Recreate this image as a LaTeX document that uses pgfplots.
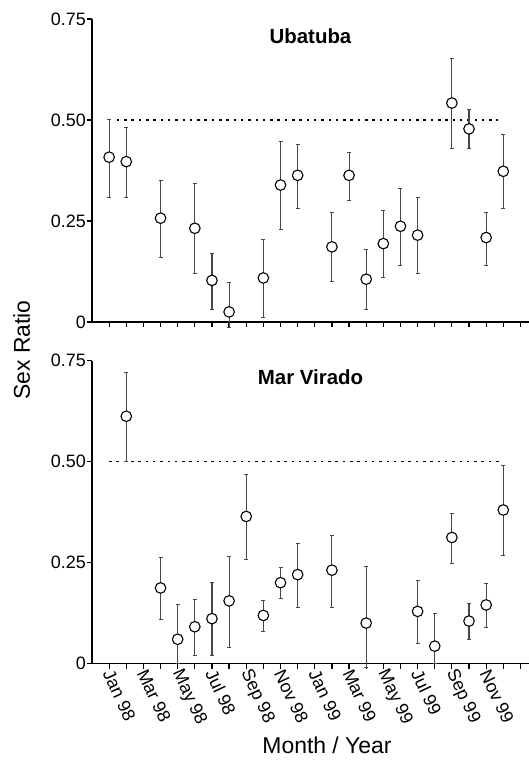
\documentclass[border=0pt]{standalone}
\usepackage{fontspec}
\setmainfont{Liberation Sans}
\usepackage{pgfplots}
\pgfplotsset{compat=1.18}
\usepackage{pgfplotstable}

\pgfplotstableread{
x y ep em
1 0.408 0.095 0.098
2 0.397 0.086 0.087
4 0.257 0.093 0.096
6 0.232 0.112 0.112
7 0.103 0.068 0.072
8 0.025 0.074 0.039
10 0.109 0.097 0.097
11 0.339 0.108 0.109
12 0.363 0.078 0.082
14 0.186 0.086 0.086
15 0.363 0.058 0.062
16 0.106 0.073 0.075
17 0.194 0.082 0.082
18 0.237 0.095 0.097
19 0.215 0.094 0.095
21 0.542 0.110 0.112
22 0.478 0.048 0.048
23 0.209 0.064 0.069
24 0.373 0.091 0.092
}\ubatuba

\pgfplotstableread{
x y ep em
2 0.612 0.108 0.112
4 0.187 0.076 0.077
5 0.060 0.088 0.060
6 0.091 0.068 0.071
7 0.111 0.090 0.091
8 0.155 0.111 0.115
9 0.364 0.104 0.105
10 0.119 0.037 0.040
11 0.200 0.038 0.039
12 0.220 0.079 0.081
14 0.231 0.087 0.092
16 0.100 0.140 0.110
19 0.129 0.077 0.078
20 0.043 0.081 0.043
21 0.312 0.060 0.063
22 0.105 0.045 0.046
23 0.145 0.055 0.054
24 0.380 0.110 0.112
}\marvirado

\newcommand\tf[1]{\mbox{\fontsize{18}{21}\selectfont #1}}
\newcommand\titlefont{\fontsize{20.5}{23}\selectfont\bfseries}
\newcommand\labfont{\fontsize{23}{26}\selectfont}

\begin{document}
\begin{tikzpicture}
\useasboundingbox (0,0) rectangle (529bp,765bp);
\pgfplotsset{
  myaxis/.style={
    scale only axis, width=437bp, height=303bp,
    xmin=0, xmax=25.5, ymin=0, ymax=0.75,
    axis x line*=bottom, axis y line*=left,
    axis line style={line width=1.4bp, black},
    tick style={line width=1.2bp, black},
    tick align=outside, major tick length=5bp,
    xtick={1,...,25},
    ytick={0,0.25,0.5,0.75},
    yticklabels={\tf{0},\tf{0.25},\tf{0.50},\tf{0.75}},
    clip=false,
    every tick label/.append style={font=\fontsize{18}{21}\selectfont},
    yticklabel style={inner sep=1bp},
    title style={font=\titlefont, at={(axis description cs:0.5,0.925)}, anchor=center},
  },
  ebar/.style={draw=none, mark=none, forget plot,
    error bars/.cd, y dir=both, y explicit,
    error bar style={line width=1.1bp, color=black!72}},
  circ/.style={only marks, mark=*, mark size=5.3bp,
    mark options={fill=white, draw=black, line width=1.1bp}},
  refline/.style={black, line width=1.5bp, dash pattern=on 2.5bp off 4.8bp, forget plot},
}
\begin{axis}[myaxis, at={(92bp,443bp)}, anchor=south west, title={Ubatuba}, xticklabels={}]
\addplot[refline] coordinates {(1.45,0.5) (23.7,0.5)};
\addplot[ebar] table[x=x, y=y, y error plus=ep, y error minus=em] {\ubatuba};
\addplot[circ] table[x=x, y=y] {\ubatuba};
\end{axis}
\begin{axis}[myaxis, at={(92bp,101.5bp)}, anchor=south west, title={Mar Virado},
  xticklabels={\tf{Jan 98},,\tf{Mar 98},,\tf{May 98},,\tf{Jul 98},,\tf{Sep 98},,\tf{Nov 98},,\tf{Jan 99},,\tf{Mar 99},,\tf{May 99},,\tf{Jul 99},,\tf{Sep 99},,\tf{Nov 99},,},
  xticklabel style={rotate=-65, anchor=west, xshift=-2bp, yshift=-2bp}]
\addplot[refline] coordinates {(1,0.5) (24,0.5)};
\addplot[ebar] table[x=x, y=y, y error plus=ep, y error minus=em] {\marvirado};
\addplot[circ] table[x=x, y=y] {\marvirado};
\end{axis}
\node[rotate=90, font=\labfont] at (21.7bp,415bp) {Sex Ratio};
\node[font=\labfont] at (327bp,20bp) {Month / Year};
\end{tikzpicture}
\end{document}
